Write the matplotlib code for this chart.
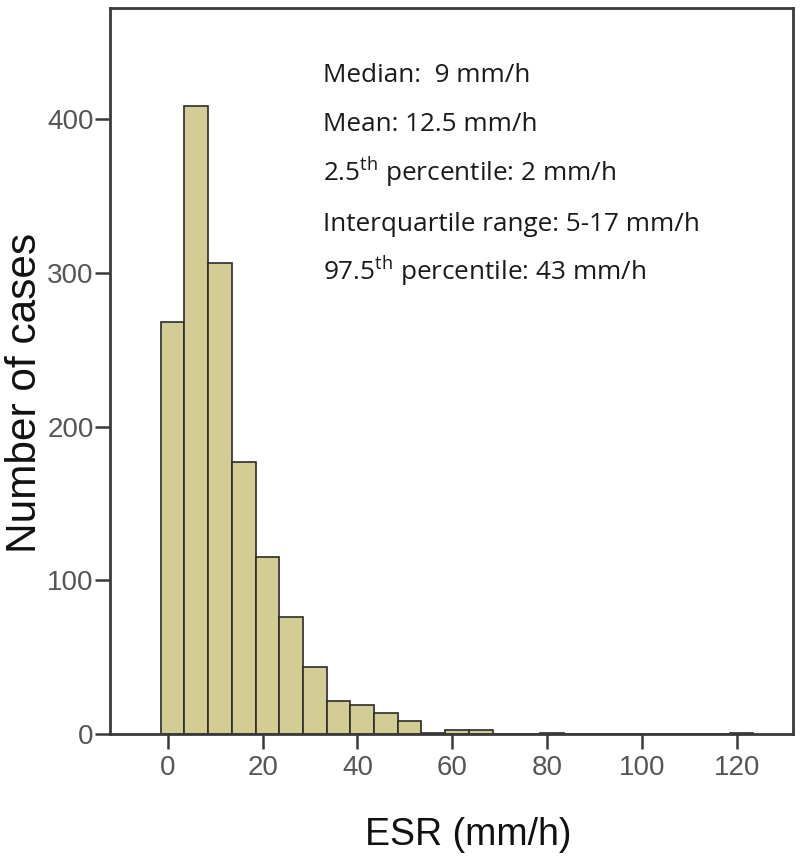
import matplotlib
matplotlib.use("Agg")
from matplotlib import pyplot as plt

# histogram of ESR values, bins 5 mm/h wide
bin_centers = [1, 6, 11, 16, 21, 26, 31, 36, 41, 46, 51, 56, 61, 66, 71, 76, 81,
               86, 91, 96, 101, 106, 111, 116, 121]
counts = [268, 408, 306, 177, 115, 76, 44, 22, 19, 14, 9, 1, 3, 3, 0, 0, 1,
          0, 0, 0, 0, 0, 0, 0, 1]
bin_width = 5

x_ticks = [0, 20, 40, 60, 80, 100, 120]
y_ticks = [0, 100, 200, 300, 400]

stats_lines = [
    "Median:  9 mm/h",
    "Mean: 12.5 mm/h",
    "2.5$^{\\mathrm{th}}$ percentile: 2 mm/h",
    "Interquartile range: 5-17 mm/h",
    "97.5$^{\\mathrm{th}}$ percentile: 43 mm/h",
]

plt.rcParams['mathtext.fontset'] = 'custom'
plt.rcParams['mathtext.rm'] = 'Open Sans'
plt.rcParams['mathtext.it'] = 'Open Sans:italic'
plt.rcParams['mathtext.bf'] = 'Open Sans:bold'

fig = plt.figure(figsize=(8, 8.6), dpi=100)
ax = fig.add_axes([0.138, 0.146, 0.853, 0.845])

ax.bar(bin_centers, counts, width=bin_width, color='#d3cd95',
       edgecolor='#2b2b2b', linewidth=1.2, zorder=2)

ax.set_xlim(-12.1, 131.8)
ax.set_ylim(0, 472)
ax.set_xticks(x_ticks)
ax.set_yticks(y_ticks)

for s in ax.spines.values():
    s.set_color('#3a3a3a')
    s.set_linewidth(2)

ax.tick_params(axis='both', direction='out', length=11, width=1.8,
               color='#3a3a3a', labelcolor='#555555', labelsize=20)
ax.tick_params(axis='y', pad=1)
ax.tick_params(axis='x', pad=4)
for lab in ax.get_xticklabels() + ax.get_yticklabels():
    lab.set_family('Liberation Sans')

ax.set_xlabel('ESR (mm/h)', fontsize=27, family='Liberation Sans', color='#111111')
ax.set_ylabel('Number of cases', fontsize=30.5, family='Liberation Sans', color='#111111')
ax.xaxis.set_label_coords(0.524, -0.114)
ax.yaxis.set_label_coords(-0.096, 0.47)

y0 = 0.905
for i, line in enumerate(stats_lines):
    fig.text(0.404, y0 - i * 0.0577, line, fontsize=18.8, family='Open Sans',
             color='#1a1a1a', va='baseline')

fig.savefig('out.png', dpi=100)
